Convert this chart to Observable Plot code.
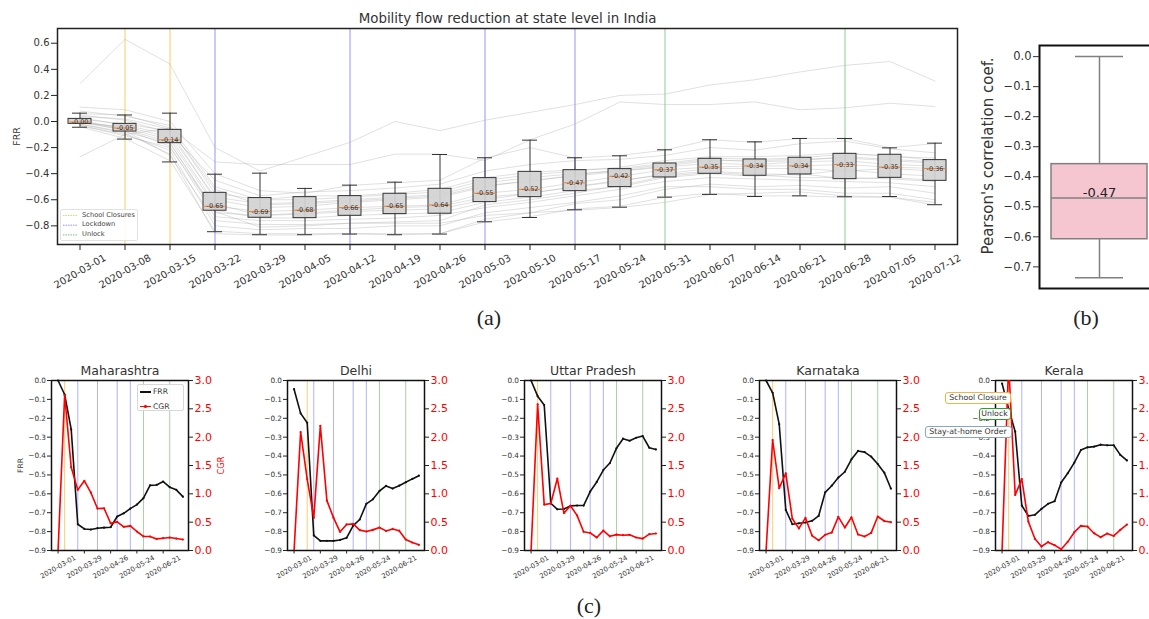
<!DOCTYPE html>
<html><head><meta charset="utf-8">
<script src="https://cdn.jsdelivr.net/npm/d3@7"></script>
<script src="https://cdn.jsdelivr.net/npm/@observablehq/plot@0.6"></script>
<style>
html,body{margin:0;padding:0;background:#fff;overflow:hidden;}
#fig{position:relative;width:1149px;height:619px;overflow:hidden;font-family:"DejaVu Sans",sans-serif;color:#333;background:#fff;}
#fig svg{position:absolute;max-width:none;background:transparent;overflow:visible;}
.abs{position:absolute;white-space:nowrap;box-sizing:border-box;}
.cap{font-family:"Liberation Serif",serif;font-size:22px;color:#222;text-align:center;width:40px;line-height:26px;}
</style></head><body><div id="fig"></div>
<script>
// ---------------- data ----------------
const weeks = ["2020-03-01","2020-03-08","2020-03-15","2020-03-22","2020-03-29","2020-04-05","2020-04-12","2020-04-19","2020-04-26","2020-05-03","2020-05-10","2020-05-17","2020-05-24","2020-05-31","2020-06-07","2020-06-14","2020-06-21","2020-06-28","2020-07-05","2020-07-12"];

// panel (a) box statistics per week
const boxLow  = [-0.044,-0.135,-0.31,-0.845,-0.868,-0.868,-0.863,-0.868,-0.863,-0.769,-0.736,-0.677,-0.657,-0.58,-0.559,-0.575,-0.57,-0.577,-0.575,-0.638];
const boxQ1   = [-0.018,-0.077,-0.166,-0.684,-0.738,-0.741,-0.723,-0.71,-0.707,-0.618,-0.58,-0.534,-0.503,-0.429,-0.401,-0.416,-0.406,-0.442,-0.432,-0.455];
const boxMed  = [-0.004,-0.05,-0.14,-0.65,-0.69,-0.68,-0.66,-0.65,-0.64,-0.55,-0.52,-0.47,-0.42,-0.37,-0.35,-0.34,-0.34,-0.33,-0.35,-0.36];
const boxQ3   = [0.02,-0.018,-0.064,-0.547,-0.587,-0.58,-0.572,-0.554,-0.516,-0.434,-0.386,-0.373,-0.365,-0.322,-0.286,-0.291,-0.278,-0.248,-0.255,-0.296];
const boxHigh = [0.064,0.05,0.064,-0.404,-0.396,-0.513,-0.488,-0.465,-0.253,-0.278,-0.143,-0.278,-0.263,-0.217,-0.14,-0.156,-0.13,-0.13,-0.202,-0.166];

// panel (a) individual state FRR traces (estimated)
const stateTraces = [
  [0.29,0.63,0.44,-0.20,-0.38,-0.27,-0.16,0.00,-0.07,0.01,0.07,0.13,0.20,0.21,0.28,0.32,0.38,0.43,0.46,0.31],
  [-0.27,-0.10,-0.05,-0.31,-0.33,-0.33,-0.33,-0.25,-0.25,-0.30,-0.14,-0.02,0.15,0.13,0.13,0.15,0.09,0.105,0.14,0.115],
  [0.11,0.09,0.00,-0.40,-0.53,-0.55,-0.49,-0.47,-0.45,-0.28,-0.20,-0.28,-0.26,-0.22,-0.14,-0.16,-0.13,-0.13,-0.20,-0.17],
  [0.06,0.05,-0.05,-0.55,-0.60,-0.57,-0.57,-0.55,-0.52,-0.43,-0.39,-0.37,-0.36,-0.32,-0.28,-0.29,-0.28,-0.25,-0.26,-0.30],
  [0.02,-0.02,-0.07,-0.60,-0.66,-0.65,-0.62,-0.60,-0.58,-0.50,-0.45,-0.42,-0.38,-0.34,-0.30,-0.30,-0.29,-0.28,-0.30,-0.32],
  [0.00,-0.05,-0.14,-0.65,-0.69,-0.68,-0.66,-0.65,-0.64,-0.55,-0.52,-0.47,-0.42,-0.37,-0.35,-0.34,-0.34,-0.33,-0.35,-0.36],
  [-0.02,-0.08,-0.17,-0.68,-0.74,-0.74,-0.72,-0.71,-0.70,-0.62,-0.58,-0.53,-0.50,-0.43,-0.40,-0.42,-0.40,-0.44,-0.43,-0.45],
  [-0.04,-0.13,-0.30,-0.84,-0.86,-0.86,-0.86,-0.86,-0.86,-0.77,-0.73,-0.67,-0.65,-0.58,-0.55,-0.57,-0.57,-0.58,-0.58,-0.64],
  [0.00,-0.07,-0.26,-0.76,-0.79,-0.79,-0.78,-0.78,-0.78,-0.72,-0.70,-0.68,-0.66,-0.62,-0.56,-0.55,-0.54,-0.57,-0.58,-0.62],
  [0.03,-0.03,-0.10,-0.58,-0.63,-0.62,-0.60,-0.58,-0.56,-0.47,-0.43,-0.40,-0.38,-0.35,-0.32,-0.33,-0.31,-0.30,-0.33,-0.34],
  [-0.01,-0.06,-0.16,-0.70,-0.72,-0.71,-0.69,-0.68,-0.67,-0.60,-0.55,-0.50,-0.45,-0.41,-0.38,-0.40,-0.41,-0.37,-0.40,-0.42],
  [0.05,0.01,-0.09,-0.45,-0.57,-0.54,-0.53,-0.51,-0.48,-0.38,-0.33,-0.30,-0.29,-0.26,-0.20,-0.22,-0.17,-0.15,-0.21,-0.24],
  [-0.03,-0.10,-0.22,-0.80,-0.83,-0.82,-0.82,-0.80,-0.80,-0.70,-0.66,-0.62,-0.57,-0.50,-0.50,-0.52,-0.52,-0.55,-0.55,-0.60],
  [0.08,0.04,-0.03,-0.50,-0.60,-0.60,-0.58,-0.56,-0.54,-0.45,-0.41,-0.38,-0.35,-0.30,-0.27,-0.27,-0.26,-0.24,-0.27,-0.28],
  [-0.01,-0.04,-0.12,-0.63,-0.72,-0.70,-0.68,-0.66,-0.65,-0.58,-0.55,-0.50,-0.46,-0.40,-0.36,-0.36,-0.36,-0.38,-0.36,-0.38],
  [0.01,-0.06,-0.19,-0.73,-0.76,-0.76,-0.75,-0.74,-0.72,-0.66,-0.62,-0.57,-0.52,-0.46,-0.43,-0.44,-0.45,-0.46,-0.47,-0.50],
  [-0.02,-0.09,-0.25,-0.86,-0.87,-0.87,-0.86,-0.87,-0.86,-0.75,-0.70,-0.63,-0.60,-0.52,-0.48,-0.50,-0.49,-0.51,-0.50,-0.55],
  [0.04,0.02,-0.06,-0.52,-0.64,-0.63,-0.61,-0.59,-0.57,-0.49,-0.46,-0.41,-0.37,-0.33,-0.29,-0.31,-0.30,-0.27,-0.29,-0.31],
  [-0.03,-0.11,-0.20,-0.69,-0.81,-0.80,-0.78,-0.77,-0.76,-0.64,-0.60,-0.55,-0.49,-0.42,-0.39,-0.41,-0.43,-0.43,-0.44,-0.46]
];

// policy events
const schoolWeeks = ["2020-03-08","2020-03-15"];
const lockdownWeeks = ["2020-03-22","2020-04-12","2020-05-03","2020-05-17"];
const unlockWeeks = ["2020-05-31","2020-06-28"];

// panel (b) Pearson correlation box
const corrLow = -0.736, corrQ1 = -0.608, corrMed = -0.471, corrQ3 = -0.358, corrHigh = 0.0;

// panel (c) states
const stateNames = ["Maharashtra","Delhi","Uttar Pradesh","Karnataka","Kerala"];
const stateSchool = ["2020-03-08","2020-03-15","2020-03-08","2020-03-08","2020-03-08"];
const frrMaharashtra = [0.0,-0.074,-0.259,-0.761,-0.786,-0.789,-0.782,-0.779,-0.777,-0.72,-0.703,-0.678,-0.657,-0.623,-0.555,-0.553,-0.535,-0.565,-0.579,-0.615];
const cgrMaharashtra = [0.0,2.74,1.47,1.07,1.23,1.02,0.74,0.746,0.48,0.505,0.417,0.435,0.335,0.25,0.247,0.205,0.217,0.229,0.211,0.194];
const frrDelhi = [-0.046,-0.174,-0.224,-0.82,-0.849,-0.849,-0.849,-0.844,-0.833,-0.768,-0.736,-0.653,-0.629,-0.585,-0.558,-0.572,-0.557,-0.539,-0.521,-0.504];
const cgrDelhi = [0.0,2.09,1.26,0.58,2.2,0.88,0.58,0.33,0.46,0.47,0.36,0.335,0.364,0.405,0.346,0.38,0.35,0.194,0.141,0.1];
const frrUttarPradesh = [0.0,-0.083,-0.13,-0.65,-0.682,-0.68,-0.664,-0.662,-0.662,-0.588,-0.537,-0.474,-0.437,-0.359,-0.308,-0.319,-0.303,-0.294,-0.356,-0.365];
const cgrUttarPradesh = [0.0,2.58,0.81,0.83,1.27,0.66,0.79,0.62,0.33,0.31,0.23,0.35,0.25,0.28,0.27,0.276,0.229,0.21,0.288,0.3];
const frrKarnataka = [0.0,-0.065,-0.231,-0.685,-0.761,-0.756,-0.752,-0.743,-0.717,-0.592,-0.557,-0.514,-0.483,-0.417,-0.373,-0.379,-0.403,-0.442,-0.488,-0.572];
const cgrKarnataka = [0.0,1.95,1.1,1.36,0.56,0.39,0.575,0.264,0.18,0.276,0.317,0.593,0.405,0.587,0.282,0.247,0.311,0.6,0.52,0.5];
const frrKerala = [-0.016,-0.15,-0.271,-0.662,-0.717,-0.711,-0.68,-0.653,-0.639,-0.54,-0.491,-0.435,-0.368,-0.354,-0.35,-0.34,-0.343,-0.343,-0.394,-0.423];
const cgrKerala = [0.0,3.3,0.98,1.26,0.51,0.206,0.07,0.147,0.094,0.023,0.153,0.323,0.435,0.423,0.305,0.235,0.3,0.258,0.364,0.458];
const stateFRR = [frrMaharashtra, frrDelhi, frrUttarPradesh, frrKarnataka, frrKerala];
const stateCGR = [cgrMaharashtra, cgrDelhi, cgrUttarPradesh, cgrKarnataka, cgrKerala];

const yTicksA = [-0.8,-0.6,-0.4,-0.2,0,0.2,0.4,0.6];
const yTicksB = [-0.7,-0.6,-0.5,-0.4,-0.3,-0.2,-0.1,0];
const frrTicks = [-0.9,-0.8,-0.7,-0.6,-0.5,-0.4,-0.3,-0.2,-0.1,0];
const cgrTicks = [0,0.5,1,1.5,2,2.5,3];
const smallXTicks = ["2020-03-01","2020-03-29","2020-04-26","2020-05-24","2020-06-21"];

// colours of the policy markers
const cSchool = "#ffa500", cLock = "#4a4aff", cUnlock = "#2a9a2a";

// ---------------- helpers ----------------
const fig = document.getElementById("fig");
const fmt1 = d3.format(".1f");
const parse = d3.utcParse("%Y-%m-%d");
const FONT = "DejaVu Sans";
function place(el, left, top) { el.style.left = left + "px"; el.style.top = top + "px"; fig.appendChild(el); return el; }
function div(cls, css, html) { const d = document.createElement("div"); d.className = cls; d.style.cssText = css; d.innerHTML = html || ""; fig.appendChild(d); return d; }
const svgStyle = {background: "transparent", fontFamily: FONT, overflow: "visible"};

// ---------------- panel (a) ----------------
const boxData = weeks.map((w, i) => ({week: w, lo: boxLow[i], q1: boxQ1[i], med: boxMed[i], q3: boxQ3[i], hi: boxHigh[i]}));
const traceData = stateTraces.flatMap((s, k) => s.map((v, i) => ({state: k, week: weeks[i], v})));

const pa = Plot.plot({
  width: 960, height: 300, marginLeft: 57, marginRight: 3, marginTop: 28, marginBottom: 56,
  style: svgStyle,
  x: {type: "band", domain: weeks, paddingInner: 0.5, paddingOuter: 0.25},
  y: {domain: [-0.943, 0.713]},
  marks: [
    Plot.ruleX(schoolWeeks, {x: d => d, stroke: cSchool, strokeWidth: 0.8, strokeOpacity: 0.75}),
    Plot.ruleX(lockdownWeeks, {x: d => d, stroke: cLock, strokeWidth: 0.8, strokeOpacity: 0.75}),
    Plot.ruleX(unlockWeeks, {x: d => d, stroke: cUnlock, strokeWidth: 0.8, strokeOpacity: 0.65}),
    Plot.line(traceData, {x: "week", y: "v", z: "state", stroke: "#a8a8a8", strokeWidth: 0.8, strokeOpacity: 0.45}),
    Plot.ruleX(boxData, {x: "week", y1: "lo", y2: "hi", stroke: "#333", strokeWidth: 1}),
    Plot.tickY(boxData, {x: "week", y: "lo", stroke: "#333", strokeWidth: 1, insetLeft: 4, insetRight: 4}),
    Plot.tickY(boxData, {x: "week", y: "hi", stroke: "#333", strokeWidth: 1, insetLeft: 4, insetRight: 4}),
    Plot.barY(boxData, {x: "week", y1: "q1", y2: "q3", fill: "#d3d3d3", fillOpacity: 0.92, stroke: "#333", strokeWidth: 1}),
    Plot.tickY(boxData, {x: "week", y: "med", stroke: "#e8833a", strokeWidth: 1}),
    Plot.text(boxData, {x: "week", y: "med", text: d => d.med.toFixed(2), fontSize: 6.5, fill: "#333"}),
    Plot.frame({stroke: "#222", strokeWidth: 1.5}),
    Plot.axisY({ticks: yTicksA, tickFormat: fmt1, tickSize: 6, tickPadding: 2, fontSize: 10, fill: "#333", stroke: "#222", label: null}),
    Plot.axisX({tickRotate: -30, textAnchor: "middle", lineAnchor: "middle", tickSize: 6, tickPadding: 21, fontSize: 10, fill: "#333", stroke: "#222", label: null}),
    Plot.text(["FRR"], {text: d => d, frameAnchor: "left", textAnchor: "middle", lineAnchor: "middle", dx: -41, rotate: -90, fontSize: 9.5, fill: "#333"}),
    Plot.text(["Mobility flow reduction at state level in India"], {text: d => d, frameAnchor: "top", textAnchor: "middle", lineAnchor: "middle", dy: -9.5, fontSize: 13.4, fill: "#333"})
  ]
});
place(pa, 0, 0);

// legend (a)
(function () {
  const lg = div("abs", "left:60px;top:209px;width:78px;height:32px;border:1px solid #e2e2e2;border-radius:2px;background:rgba(255,255,255,0.85);");
  const items = [["School Closures", cSchool], ["Lockdown", cLock], ["Unlock", cUnlock]];
  let svg = `<svg width="20" height="32" style="left:0;top:0;">`;
  items.forEach(([t, c], i) => {
    const y = 5.5 + i * 9.7;
    svg += `<line x1="2" x2="17" y1="${y}" y2="${y}" stroke="${c}" stroke-opacity="0.6" stroke-width="1" stroke-dasharray="1.5,1"/>`;
  });
  svg += `</svg>`;
  lg.innerHTML = svg;
  items.forEach(([t, c], i) => {
    const y = 5 + i * 9.7;
    const tx = document.createElement("div");
    tx.className = "abs";
    tx.style.cssText = `left:21px;top:${y - 4.5}px;font-size:6.7px;line-height:9px;color:#444;`;
    tx.textContent = t;
    lg.appendChild(tx);
  });
})();

// ---------------- panel (b) ----------------
const corrData = [{g: "r", lo: corrLow, q1: corrQ1, med: corrMed, q3: corrQ3, hi: corrHigh}];
const pb = Plot.plot({
  width: 200, height: 290, marginLeft: 79, marginRight: 1, marginTop: 45, marginBottom: 2,
  style: svgStyle,
  x: {type: "band", domain: ["r"], paddingInner: 0.2, paddingOuter: 0.1, axis: null},
  y: {domain: [-0.772, 0.037]},
  marks: [
    Plot.ruleX(corrData, {x: "g", y1: "lo", y2: "hi", stroke: "#808080", strokeWidth: 1.5}),
    Plot.tickY(corrData, {x: "g", y: "lo", stroke: "#808080", strokeWidth: 1.5, insetLeft: 24, insetRight: 24}),
    Plot.tickY(corrData, {x: "g", y: "hi", stroke: "#808080", strokeWidth: 1.5, insetLeft: 24, insetRight: 24}),
    Plot.barY(corrData, {x: "g", y1: "q1", y2: "q3", fill: "#f5c6d0", stroke: "#808080", strokeWidth: 1.5}),
    Plot.tickY(corrData, {x: "g", y: "med", stroke: "#808080", strokeWidth: 1.5}),
    Plot.text(corrData, {x: "g", y: "med", text: d => d.med.toFixed(2), lineAnchor: "bottom", dy: -1, fontSize: 13, fill: "#222"}),
    Plot.frame({stroke: "#111", strokeWidth: 2}),
    Plot.axisY({ticks: yTicksB, tickFormat: fmt1, tickSize: 6, tickPadding: 2, fontSize: 11.5, fill: "#333", stroke: "#333", label: null}),
    Plot.text(["Pearson's correlation coef."], {text: d => d, frameAnchor: "left", textAnchor: "middle", lineAnchor: "middle", dx: -51, dy: -11, rotate: -90, fontSize: 15, fill: "#333"})
  ]
});
place(pb, 960, 0);

// ---------------- panel (c) ----------------
const frameLefts = [51, 287, 524, 759, 995];
const FW = 137, ML = 50, MR = 45, PH = 250, MT = 20, MB = 60;
const xDomain = [d3.utcDay.offset(parse(weeks[0]), -6.65), d3.utcDay.offset(parse(weeks[weeks.length - 1]), 6.65)];
const xTicksDates = smallXTicks.map(parse);
const eventStyle = {strokeWidth: 0.8};

stateNames.forEach((name, s) => {
  const frr = weeks.map((w, i) => ({date: parse(w), v: stateFRR[s][i]}));
  const cgr = weeks.map((w, i) => ({date: parse(w), v: stateCGR[s][i]}));
  const common = {
    width: ML + FW + MR, height: PH, marginLeft: ML, marginRight: MR, marginTop: MT, marginBottom: MB,
    style: svgStyle
  };
  const p1 = Plot.plot({
    ...common,
    x: {type: "utc", domain: xDomain},
    y: {domain: [-0.9, 0]},
    marks: [
      Plot.ruleX([stateSchool[s]], {x: d => parse(d), stroke: cSchool, strokeOpacity: 0.7, ...eventStyle}),
      Plot.ruleX(lockdownWeeks, {x: d => parse(d), stroke: cLock, strokeOpacity: 0.55, ...eventStyle}),
      Plot.ruleX(unlockWeeks, {x: d => parse(d), stroke: cUnlock, strokeOpacity: 0.55, ...eventStyle}),
      Plot.line(frr, {x: "date", y: "v", stroke: "#111", strokeWidth: 1.6}),
      Plot.dot(frr, {x: "date", y: "v", r: 1.1, fill: "#111"}),
      Plot.frame({stroke: "#111", strokeWidth: 1.5}),
      Plot.axisY({ticks: frrTicks, tickFormat: fmt1, tickSize: 4, tickPadding: 1.5, fontSize: 7.3, fill: "#333", stroke: "#222", label: null}),
      Plot.axisX({ticks: xTicksDates, tickFormat: d3.utcFormat("%Y-%m-%d"), tickRotate: -30, textAnchor: "middle", lineAnchor: "middle", tickSize: 3.5, tickPadding: 13, fontSize: 6.8, fill: "#333", stroke: "#222", label: null}),
      Plot.text([name], {text: d => d, frameAnchor: "top", textAnchor: "middle", lineAnchor: "middle", dy: -9.5, fontSize: 12.5, fill: "#333"}),
      ...(s === 0 ? [Plot.text(["FRR"], {text: d => d, frameAnchor: "left", textAnchor: "middle", lineAnchor: "middle", dx: -31, rotate: -90, fontSize: 7.5, fill: "#333"})] : [])
    ]
  });
  place(p1, frameLefts[s] - ML, 360);
  const p2 = Plot.plot({
    ...common,
    x: {type: "utc", domain: xDomain, axis: null},
    y: {domain: [0, 3], axis: null},
    marks: [
      Plot.line(cgr, {x: "date", y: "v", stroke: "#ff0000", strokeWidth: 1.6, clip: true}),
      Plot.dot(cgr, {x: "date", y: "v", r: 1.1, fill: "#ff0000", clip: true}),
      Plot.axisY({anchor: "right", ticks: cgrTicks, tickFormat: fmt1, tickSize: 4, tickPadding: 2, fontSize: 11, fill: "#ff0000", stroke: "#222", label: null}),
      ...(s === 0 ? [Plot.text(["CGR"], {text: d => d, frameAnchor: "right", textAnchor: "middle", lineAnchor: "middle", dx: 33, rotate: -90, fontSize: 8.3, fill: "#ff0000"})] : [])
    ]
  });
  place(p2, frameLefts[s] - ML, 360);
});

// Maharashtra legend
(function () {
  const lg = div("abs", "left:137px;top:384px;width:47px;height:27px;border:1px solid #d8d8d8;border-radius:2px;background:rgba(255,255,255,0.85);");
  [["FRR", "#111"], ["CGR", "#ff0000"]].forEach(([t, c], i) => {
    const y = 7 + i * 14.5;
    const ln = document.createElement("div");
    ln.className = "abs";
    ln.style.cssText = `left:2px;top:${y - 0.8}px;width:11px;height:1.6px;background:${c};`;
    lg.appendChild(ln);
    const dt = document.createElement("div");
    dt.className = "abs";
    dt.style.cssText = `left:6.3px;top:${y - 1.2}px;width:2.4px;height:2.4px;border-radius:50%;background:${c};`;
    lg.appendChild(dt);
    const tx = document.createElement("div");
    tx.className = "abs";
    tx.style.cssText = `left:15px;top:${y - 5}px;font-size:7.6px;line-height:10px;color:#333;`;
    tx.textContent = t;
    lg.appendChild(tx);
  });
})();

// Kerala annotation boxes
const annoCss = "border-radius:3px;background:#fff;font-size:7.8px;text-align:center;color:#333;display:flex;align-items:center;justify-content:center;";
div("abs", "left:945px;top:391.5px;width:66px;height:12px;border:1px solid #f5b342;" + annoCss, "School Closure");
div("abs", "left:978.5px;top:408px;width:32px;height:11.5px;border:1px solid #2ca02c;" + annoCss, "Unlock");
div("abs", "left:924.5px;top:425.5px;width:87px;height:12px;border:1px solid #8aa4c8;" + annoCss, "Stay-at-home Order");

// captions
div("abs cap", "left:469px;top:305px;", "(a)");
div("abs cap", "left:1066px;top:305px;", "(b)");
div("abs cap", "left:569px;top:593px;", "(c)");
</script></body></html>
